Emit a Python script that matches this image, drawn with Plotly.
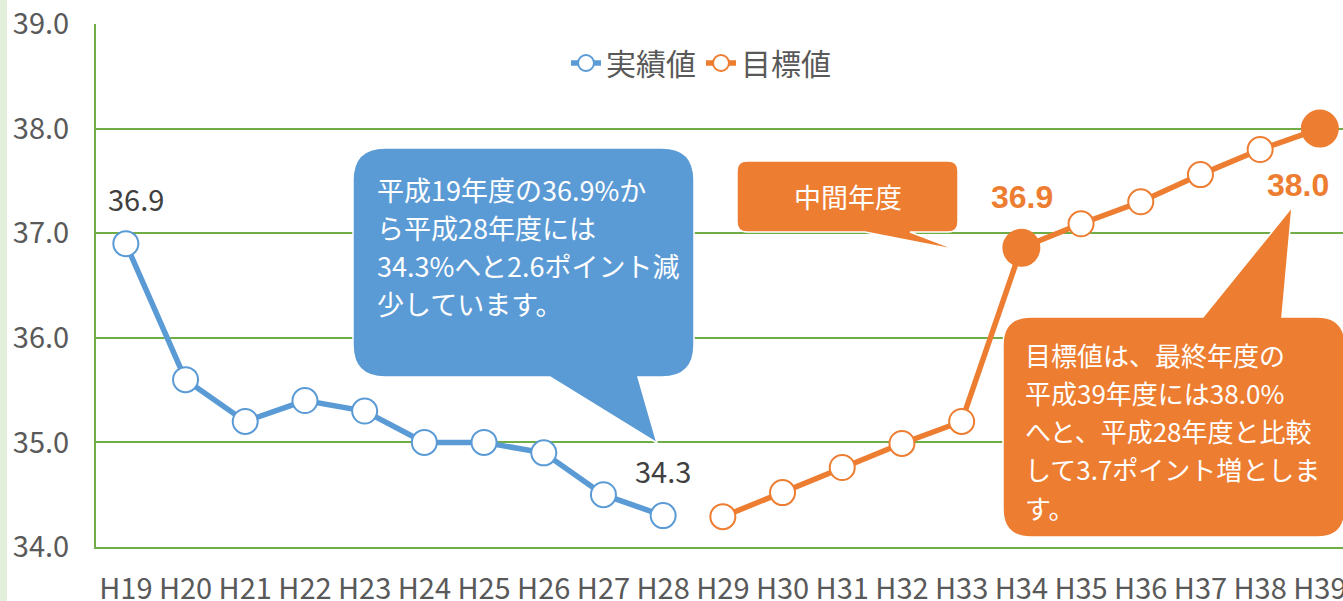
import plotly.graph_objects as go

# ---------------- data ----------------
years = ["H19", "H20", "H21", "H22", "H23", "H24", "H25", "H26", "H27", "H28",
         "H29", "H30", "H31", "H32", "H33", "H34", "H35", "H36", "H37", "H38", "H39"]
actual_years = years[:10]
actual_values = [36.9, 35.6, 35.2, 35.4, 35.3, 35.0, 35.0, 34.9, 34.5, 34.3]
target_years = years[10:]
target_values = [34.29, 34.52, 34.76, 34.99, 35.2, 36.86, 37.09, 37.3, 37.56, 37.8, 38.0]
highlight_years = ["H34", "H39"]
actual_label_years = ["H19", "H28"]

y_ticks = [34.0, 35.0, 36.0, 37.0, 38.0, 39.0]

blue_note = ["平成19年度の36.9%か", "ら平成28年度には", "34.3%へと2.6ポイント減", "少しています。"]
mid_note = "中間年度"
orange_note = ["目標値は、最終年度の", "平成39年度には38.0%", "へと、平成28年度と比較",
               "して3.7ポイント増としま", "す。"]

BLUE = "#5B9BD5"
ORANGE = "#ED7D31"
GREEN = "#70AD47"
GRAY = "#595959"
FONT = "Noto Sans CJK JP"

W, H = 1343, 601
L, R, T, B = 96, 0, 24, 54
PW, PH = W - L - R, H - T - B


def px(x):
    return (x - L) / PW


def py(y):
    return (H - B - y) / PH


def callout(x0, y0, x1, y1, r, tail, side):
    """rounded rectangle with a tail; coordinates in pixels -> paper path"""
    (a, b), (tx, ty) = tail[0], tail[1]
    pts = []
    pts.append(("M", [(x0 + r, y0)]))
    if side == "top":
        pts.append(("L", [(a, y0)]))
        pts.append(("L", [(tx, ty)]))
        pts.append(("L", [(b, y0)]))
    pts.append(("L", [(x1 - r, y0)]))
    pts.append(("Q", [(x1, y0), (x1, y0 + r)]))
    pts.append(("L", [(x1, y1 - r)]))
    pts.append(("Q", [(x1, y1), (x1 - r, y1)]))
    if side == "bottom":
        pts.append(("L", [(b, y1)]))
        pts.append(("L", [(tx, ty)]))
        pts.append(("L", [(a, y1)]))
    pts.append(("L", [(x0 + r, y1)]))
    pts.append(("Q", [(x0, y1), (x0, y1 - r)]))
    pts.append(("L", [(x0, y0 + r)]))
    pts.append(("Q", [(x0, y0), (x0 + r, y0)]))
    s = ""
    for cmd, cs in pts:
        s += cmd + " " + " ".join(f"{px(cx):.5f},{py(cy):.5f}" for cx, cy in cs) + " "
    return s + "Z"


fig = go.Figure()

fig.add_trace(go.Scatter(
    x=actual_years, y=actual_values, name="実績値", mode="lines+markers",
    line=dict(color=BLUE, width=5.5),
    marker=dict(symbol="circle", size=25, color="white", line=dict(color=BLUE, width=2)),
))
fig.add_trace(go.Scatter(
    x=target_years, y=target_values, name="目標値", mode="lines+markers",
    line=dict(color=ORANGE, width=5.5),
    marker=dict(symbol="circle", size=25, color="white", line=dict(color=ORANGE, width=2)),
))
tmap = dict(zip(target_years, target_values))
fig.add_trace(go.Scatter(
    x=highlight_years, y=[tmap[k] for k in highlight_years], mode="markers",
    showlegend=False, marker=dict(size=38, color=ORANGE), hoverinfo="skip",
))

annotations = []
amap = dict(zip(actual_years, actual_values))
for k, dx in zip(actual_label_years, [10, 0]):
    annotations.append(dict(x=k, y=amap[k], text=f"{amap[k]:.1f}", showarrow=False,
                            xshift=dx, yshift=46,
                            font=dict(family=FONT, size=29, color="#404040")))
for k, dx, dy in zip(highlight_years, [1, -22], [51, -56]):
    annotations.append(dict(x=k, y=tmap[k], text=f"<b>{tmap[k]:.1f}</b>", showarrow=False,
                            xshift=dx, yshift=dy,
                            font=dict(family="Liberation Sans", size=32, color=ORANGE)))

for i, line in enumerate(blue_note):
    annotations.append(dict(
        xref="paper", yref="paper", x=px(375), y=py(190 + i * 37.7), xanchor="left",
        yanchor="middle", align="left", showarrow=False, text=line,
        font=dict(family=FONT, size=27, color="white")))
annotations.append(dict(
    xref="paper", yref="paper", x=px(848), y=py(197), xanchor="center", yanchor="middle",
    showarrow=False, text=mid_note,
    font=dict(family=FONT, size=27, color="white")))
for i, line in enumerate(orange_note):
    annotations.append(dict(
        xref="paper", yref="paper", x=px(1023), y=py(354 + i * 38.3), xanchor="left",
        yanchor="middle", align="left", showarrow=False, text=line,
        font=dict(family=FONT, size=26, color="white")))

shapes = [
    dict(type="rect", xref="paper", yref="paper", x0=px(0), x1=px(7), y0=py(601), y1=py(0),
         fillcolor="#E2EFDA", line=dict(width=0), layer="below"),
    dict(type="path", xref="paper", yref="paper",
         path=callout(353, 148, 694, 377, 32, [(550, 638), (657, 443)], "bottom"),
         fillcolor=BLUE, line=dict(color="white", width=1.5)),
    dict(type="path", xref="paper", yref="paper",
         path=callout(737, 161, 958, 232, 10, [(865, 910), (957, 250)], "bottom"),
         fillcolor=ORANGE, line=dict(color="white", width=1.5)),
    dict(type="path", xref="paper", yref="paper",
         path=callout(1003, 317, 1345, 537, 28, [(1203, 1282), (1292, 207)], "top"),
         fillcolor=ORANGE, line=dict(color="white", width=1.5)),
]

fig.update_layout(
    width=W, height=H,
    margin=dict(l=L, r=R, t=T, b=B, pad=0, autoexpand=False),
    paper_bgcolor="white", plot_bgcolor="white",
    showlegend=True,
    legend=dict(orientation="h", x=px(701), y=py(63), xanchor="center", yanchor="middle",
                font=dict(family=FONT, size=30, color=GRAY), bgcolor="rgba(0,0,0,0)"),
    xaxis=dict(type="category", categoryorder="array", categoryarray=years,
               range=[-0.5, -0.5 + PW / 59.7], showgrid=False, zeroline=False,
               showline=True, linecolor=GREEN, linewidth=2, ticks="", automargin=False,
               tickfont=dict(family=FONT, size=29, color=GRAY), ticklabelstandoff=15),
    yaxis=dict(range=[34, 39], tickvals=y_ticks, ticktext=[f"{v:.1f}" for v in y_ticks],
               showgrid=True, gridcolor=GREEN, gridwidth=2, zeroline=False,
               showline=True, linecolor=GREEN, linewidth=2, ticks="", automargin=False,
               tickfont=dict(family=FONT, size=29, color=GRAY), ticklabelstandoff=19),
    annotations=annotations,
    shapes=shapes,
    hovermode=False,
)

fig.write_html("out.html", config={"displayModeBar": False},
               post_script="document.body.style.margin='0';document.body.style.overflow='hidden';")
